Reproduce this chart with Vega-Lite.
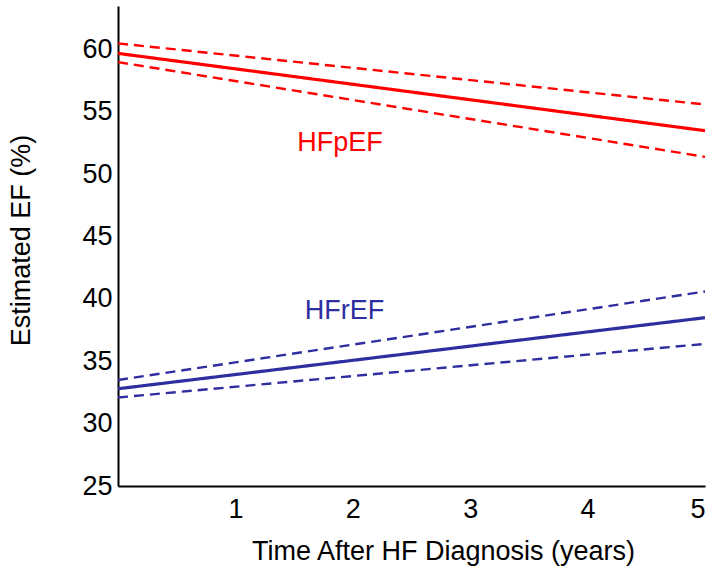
{
  "$schema": "https://vega.github.io/schema/vega-lite/v6.json",
  "autosize": "none",
  "width": 587,
  "height": 480,
  "padding": {"left": 118, "top": 6, "right": 7, "bottom": 97},
  "background": "white",
  "config": {
    "view": {"stroke": null},
    "font": "Liberation Sans",
    "axis": {"labelFont": "Liberation Sans", "titleFont": "Liberation Sans", "labelColor": "black", "titleColor": "black", "titleFontWeight": "normal"}
  },
  "data": {
    "values": [
      {"line": "HFpEF est", "group": "HFpEF", "kind": "estimate", "t": 0, "ef": 59.7},
      {"line": "HFpEF est", "group": "HFpEF", "kind": "estimate", "t": 5, "ef": 53.5},
      {"line": "HFpEF up", "group": "HFpEF", "kind": "CI", "t": 0, "ef": 60.5},
      {"line": "HFpEF up", "group": "HFpEF", "kind": "CI", "t": 5, "ef": 55.6},
      {"line": "HFpEF lo", "group": "HFpEF", "kind": "CI", "t": 0, "ef": 59.0},
      {"line": "HFpEF lo", "group": "HFpEF", "kind": "CI", "t": 5, "ef": 51.4},
      {"line": "HFrEF est", "group": "HFrEF", "kind": "estimate", "t": 0, "ef": 32.8},
      {"line": "HFrEF est", "group": "HFrEF", "kind": "estimate", "t": 5, "ef": 38.5},
      {"line": "HFrEF up", "group": "HFrEF", "kind": "CI", "t": 0, "ef": 33.5},
      {"line": "HFrEF up", "group": "HFrEF", "kind": "CI", "t": 5, "ef": 40.6},
      {"line": "HFrEF lo", "group": "HFrEF", "kind": "CI", "t": 0, "ef": 32.1},
      {"line": "HFrEF lo", "group": "HFrEF", "kind": "CI", "t": 5, "ef": 36.4}
    ]
  },
  "layer": [
    {
      "mark": {"type": "line", "clip": true},
      "encoding": {
        "x": {
          "field": "t", "type": "quantitative",
          "scale": {"domain": [0, 5], "nice": false, "zero": false},
          "axis": {
            "title": "Time After HF Diagnosis (years)",
            "values": [1, 2, 3, 4, 5], "format": "d",
            "grid": false, "ticks": false,
            "domainColor": "black", "domainWidth": 2,
            "labelFontSize": 27, "labelPadding": 10,
            "titleFontSize": 27, "titlePadding": 16, "titleX": 325
          }
        },
        "y": {
          "field": "ef", "type": "quantitative",
          "scale": {"domain": [25, 63.5], "nice": false, "zero": false},
          "axis": {
            "title": "Estimated EF (%)",
            "values": [25, 30, 35, 40, 45, 50, 55, 60],
            "grid": false, "ticks": false,
            "domainColor": "black", "domainWidth": 2,
            "labelFontSize": 27, "labelPadding": 6,
            "titleFontSize": 27, "titlePadding": 46, "titleY": 234
          }
        },
        "detail": {"field": "line"},
        "color": {"field": "group", "type": "nominal", "scale": {"domain": ["HFpEF", "HFrEF"], "range": ["#ff0000", "#2e2ea0"]}, "legend": null},
        "strokeDash": {"field": "kind", "type": "nominal", "scale": {"domain": ["estimate", "CI"], "range": [[1, 0], [10, 6]]}, "legend": null},
        "strokeWidth": {"field": "kind", "type": "nominal", "scale": {"domain": ["estimate", "CI"], "range": [3.2, 2.4]}, "legend": null}
      }
    },
    {
      "data": {"values": [
        {"label": "HFpEF", "t": 1.89, "ef": 52.5},
        {"label": "HFrEF", "t": 1.93, "ef": 39.0}
      ]},
      "mark": {"type": "text", "fontSize": 27, "font": "Liberation Sans", "align": "center", "baseline": "middle"},
      "encoding": {
        "x": {"field": "t", "type": "quantitative"},
        "y": {"field": "ef", "type": "quantitative"},
        "text": {"field": "label"},
        "color": {"field": "label", "type": "nominal", "scale": {"domain": ["HFpEF", "HFrEF"], "range": ["#ff0000", "#2e2ea0"]}, "legend": null}
      }
    }
  ]
}
